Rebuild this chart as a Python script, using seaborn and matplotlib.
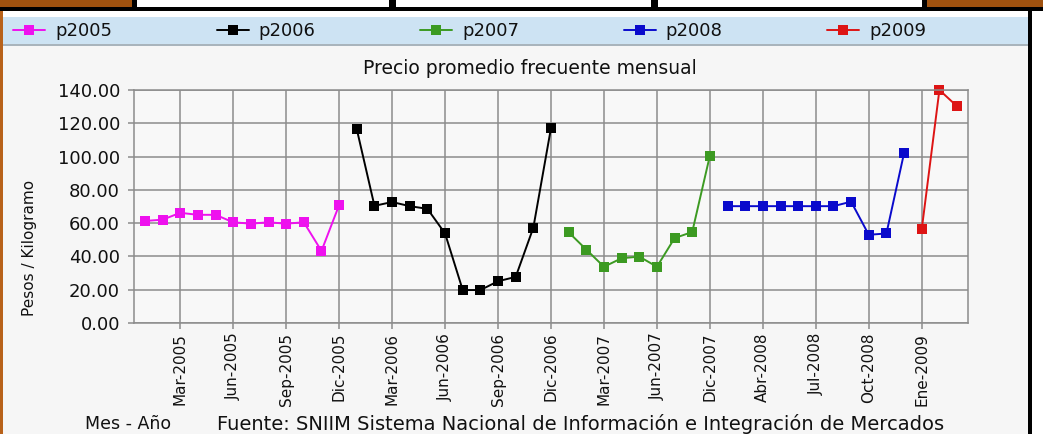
import pandas as pd
import matplotlib
matplotlib.use("Agg")
import matplotlib.pyplot as plt
import seaborn as sns
from matplotlib.patches import Rectangle
from matplotlib.lines import Line2D

# Meses con dato (eje categórico, algunos meses faltan)
meses = [
    "Ene-2005", "Feb-2005", "Mar-2005", "Abr-2005", "May-2005", "Jun-2005",
    "Jul-2005", "Ago-2005", "Sep-2005", "Oct-2005", "Nov-2005", "Dic-2005",
    "Ene-2006", "Feb-2006", "Mar-2006", "Abr-2006", "May-2006", "Jun-2006",
    "Jul-2006", "Ago-2006", "Sep-2006", "Oct-2006", "Nov-2006", "Dic-2006",
    "Ene-2007", "Feb-2007", "Mar-2007", "Abr-2007", "May-2007", "Jun-2007",
    "Oct-2007", "Nov-2007", "Dic-2007",
    "Feb-2008", "Mar-2008", "Abr-2008", "May-2008", "Jun-2008", "Jul-2008",
    "Ago-2008", "Sep-2008", "Oct-2008", "Nov-2008", "Dic-2008",
    "Ene-2009", "Feb-2009", "Mar-2009",
]

p2005 = [61.3, 62.1, 66.2, 65.0, 65.0, 60.5, 59.7, 60.5, 59.7, 60.5, 43.3, 70.9]
p2006 = [116.4, 70.4, 72.7, 70.2, 68.6, 53.8, 19.8, 19.8, 25.1, 27.7, 57.3, 117.2]
p2007 = [54.5, 44.1, 33.8, 38.9, 39.9, 33.8, 51.0, 54.7, 100.6]
p2008 = [70.2, 70.2, 70.2, 70.2, 70.2, 70.2, 70.2, 72.9, 53.0, 53.8, 102.2]
p2009 = [56.3, 140.0, 130.2]

series = ["p2005", "p2006", "p2007", "p2008", "p2009"]
valores = [p2005, p2006, p2007, p2008, p2009]
colores = ["#ee11ee", "#000000", "#3c9a22", "#0a0acc", "#dd1414"]

tick_labels = ["Mar-2005", "Jun-2005", "Sep-2005", "Dic-2005", "Mar-2006",
               "Jun-2006", "Sep-2006", "Dic-2006", "Mar-2007", "Jun-2007",
               "Dic-2007", "Abr-2008", "Jul-2008", "Oct-2008", "Ene-2009"]

# tabla larga para seaborn
rows = []
i = 0
for s, vals in zip(series, valores):
    for v in vals:
        rows.append({"mes": meses[i], "pos": i, "precio": v, "serie": s})
        i += 1
df = pd.DataFrame(rows)

sns.set_style("whitegrid")
plt.rcParams["font.family"] = ["DejaVu Sans"]

W, H = 1043, 434
fig = plt.figure(figsize=(W / 100, H / 100), dpi=100)
fig.patch.set_facecolor("#f6f6f6")

def px(x0, y0, x1, y1, color, z=0):
    # rectángulo en pixeles (origen arriba-izquierda)
    fig.patches.append(Rectangle((x0 / W, 1 - y1 / H), (x1 - x0) / W, (y1 - y0) / H,
                                 transform=fig.transFigure, facecolor=color,
                                 edgecolor="none", zorder=z))

# marco de la página
px(0, 0, W, 11, "#000000")
px(0, 0, 132, 7, "#a0520f")
px(927, 0, W, 7, "#a0520f")
px(137, 0, 389, 7, "#ffffff")
px(396, 0, 651, 7, "#ffffff")
px(658, 0, 922, 7, "#ffffff")
px(0, 11, W, 17, "#ffffff")
px(0, 11, 3, H, "#b8621a")
px(1028, 11, 1032, H, "#000000")
px(1032, 11, W, H, "#ffffff")
# banda de leyenda
px(3, 17, 1028, 45, "#cde3f3")
px(3, 44, 1028, 46, "#a9b4bc")

ax = fig.add_axes([134 / W, 1 - 323 / H, (968 - 134) / W, (323 - 90) / H])
ax.set_facecolor("#f8f8f8")

sns.lineplot(data=df, x="pos", y="precio", hue="serie", palette=colores,
             marker="s", markersize=6.5, markeredgewidth=0, linewidth=1.4,
             legend=False, ax=ax, clip_on=False)

ax.set_xlim(-0.62, 46.62)
ax.set_ylim(0, 140)
ax.set_yticks([0, 20, 40, 60, 80, 100, 120, 140])
ax.set_yticklabels([f"{v:.2f}" for v in ax.get_yticks()], fontsize=13)
pos_ticks = [meses.index(t) for t in tick_labels]
ax.set_xticks(pos_ticks)
ax.set_xticklabels(tick_labels, rotation=90, fontsize=11)
ax.set_xlabel("")
ax.set_ylabel("")
ax.grid(True, color="#8c8c8c", linewidth=1.1)
ax.tick_params(axis="both", length=4, width=1.1, color="#8c8c8c",
               labelcolor="#111111")
ax.tick_params(axis="x", bottom=True, pad=3)
ax.tick_params(axis="y", left=True, pad=6)
for sp in ax.spines.values():
    sp.set_color("#8c8c8c")
    sp.set_linewidth(1.1)

# textos
fig.text(530 / W, 1 - 68 / H, "Precio promedio frecuente mensual",
         ha="center", va="center", fontsize=13.5, color="#111111")
fig.text(30 / W, 1 - 248 / H, "Pesos / Kilogramo", rotation=90,
         ha="center", va="center", fontsize=11, color="#111111")
fig.text(128 / W, 1 - 424 / H, "Mes - Año", ha="center", va="center",
         fontsize=12.5, color="#111111")
fig.text(581 / W, 1 - 424 / H,
         "Fuente: SNIIM Sistema Nacional de Información e Integración de Mercados",
         ha="center", va="center", fontsize=14, color="#111111")

# leyenda
fs_leg = 13
em = fs_leg * 100 / 72
handles = [Line2D([0], [0], color=c, marker="s", markersize=7, markeredgewidth=0,
                  linewidth=1.4) for c in colores]
txt_w = 3.18 * em
fig.legend(handles, series, ncol=5, loc="center left",
           bbox_to_anchor=(13 / W, 1 - 31 / H),
           frameon=False, fontsize=fs_leg, handlelength=32 / em,
           handletextpad=10 / em, columnspacing=(204 - 42 - txt_w) / em,
           borderpad=0, borderaxespad=0, labelcolor="#111111")

fig.savefig("out.png", dpi=100, facecolor=fig.get_facecolor())
